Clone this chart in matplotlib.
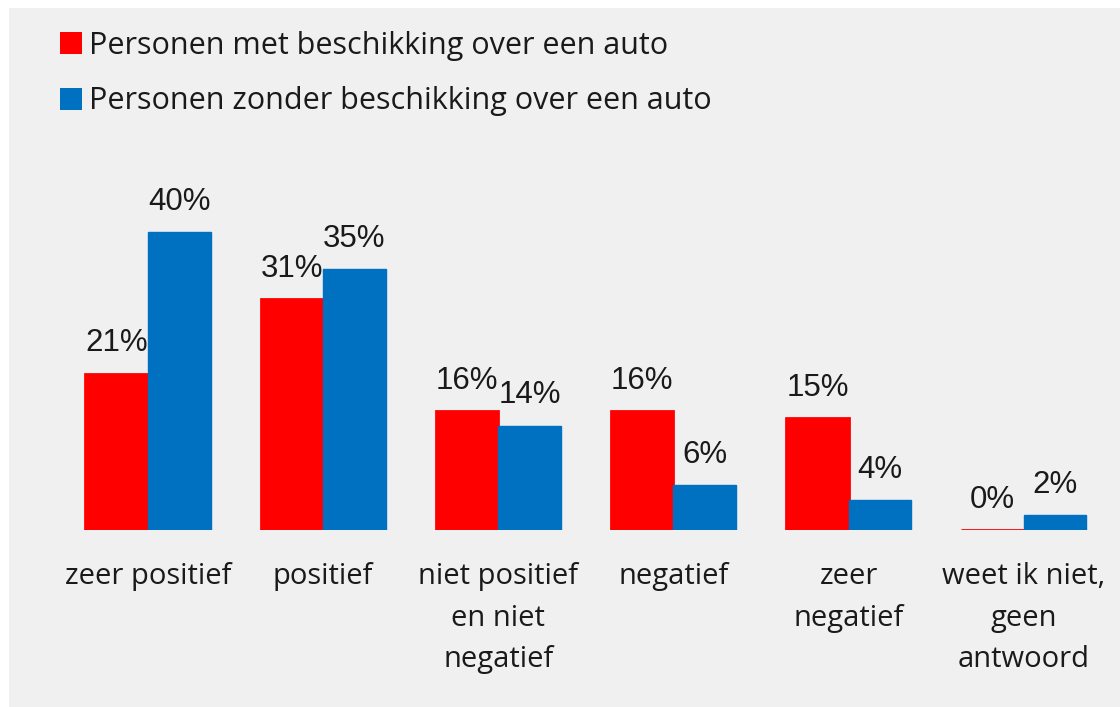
import matplotlib.pyplot as plt
from matplotlib.patches import Patch, Rectangle

categories = ['zeer positief', 'positief', 'niet positief\nen niet\nnegatief',
              'negatief', 'zeer\nnegatief', 'weet ik niet,\ngeen\nantwoord']
met_auto = [21, 31, 16, 16, 15, 0]
zonder_auto = [40, 35, 14, 6, 4, 2]
series_names = ['Personen met beschikking over een auto',
                'Personen zonder beschikking over een auto']

red = '#ff0000'
blue = '#0070c0'
bg = '#f0f0f0'
label_font = 'Open Sans'
num_font = 'Liberation Sans'

fig = plt.figure(figsize=(11.2, 7.07), dpi=100)
fig.patch.set_facecolor('white')
# gray panel (thin white strip left and top like the screenshot)
fig.patches.append(Rectangle((9 / 1120, 0), 1, 1 - 8 / 707, transform=fig.transFigure,
                             facecolor=bg, edgecolor='none', zorder=-10))

ax = fig.add_axes([60.4 / 1120, 177 / 707, 1051 / 1120, 400 / 707])
ax.set_facecolor('none')

w = 0.357
x = list(range(len(categories)))
b1 = ax.bar([i - w / 2 for i in x], met_auto, width=w, color=red, edgecolor=red, linewidth=2)
b2 = ax.bar([i + w / 2 for i in x], zonder_auto, width=w, color=blue, edgecolor=blue, linewidth=1)

for bars, vals in [(b1, met_auto), (b2, zonder_auto)]:
    for rect, v in zip(bars, vals):
        ax.annotate(f'{v}%', (rect.get_x() + rect.get_width() / 2, v),
                    xytext=(0, 16), textcoords='offset points', ha='center', va='baseline',
                    fontsize=22.5, family=num_font, color='#1a1a1a')

ax.set_xlim(-0.5, 5.5)
ax.set_ylim(0, 53.7)
ax.set_yticks([])
ax.set_xticks(x)
ax.set_xticklabels(categories, fontsize=21, family=label_font, color='#1a1a1a', linespacing=1.58)
ax.tick_params(axis='x', length=0, pad=23)
for s in ax.spines.values():
    s.set_visible(False)

handles = [Patch(facecolor=red), Patch(facecolor=blue)]
leg = fig.legend(handles, series_names, loc='upper left', bbox_to_anchor=(32 / 1120, 1 - 3 / 707),
                 frameon=False, prop={'family': label_font, 'size': 22},
                 handlelength=0.72, handleheight=0.72, handletextpad=0.25, labelspacing=0.85)
for t in leg.get_texts():
    t.set_color('#1a1a1a')

plt.savefig('out.png', dpi=100, facecolor=fig.get_facecolor())
